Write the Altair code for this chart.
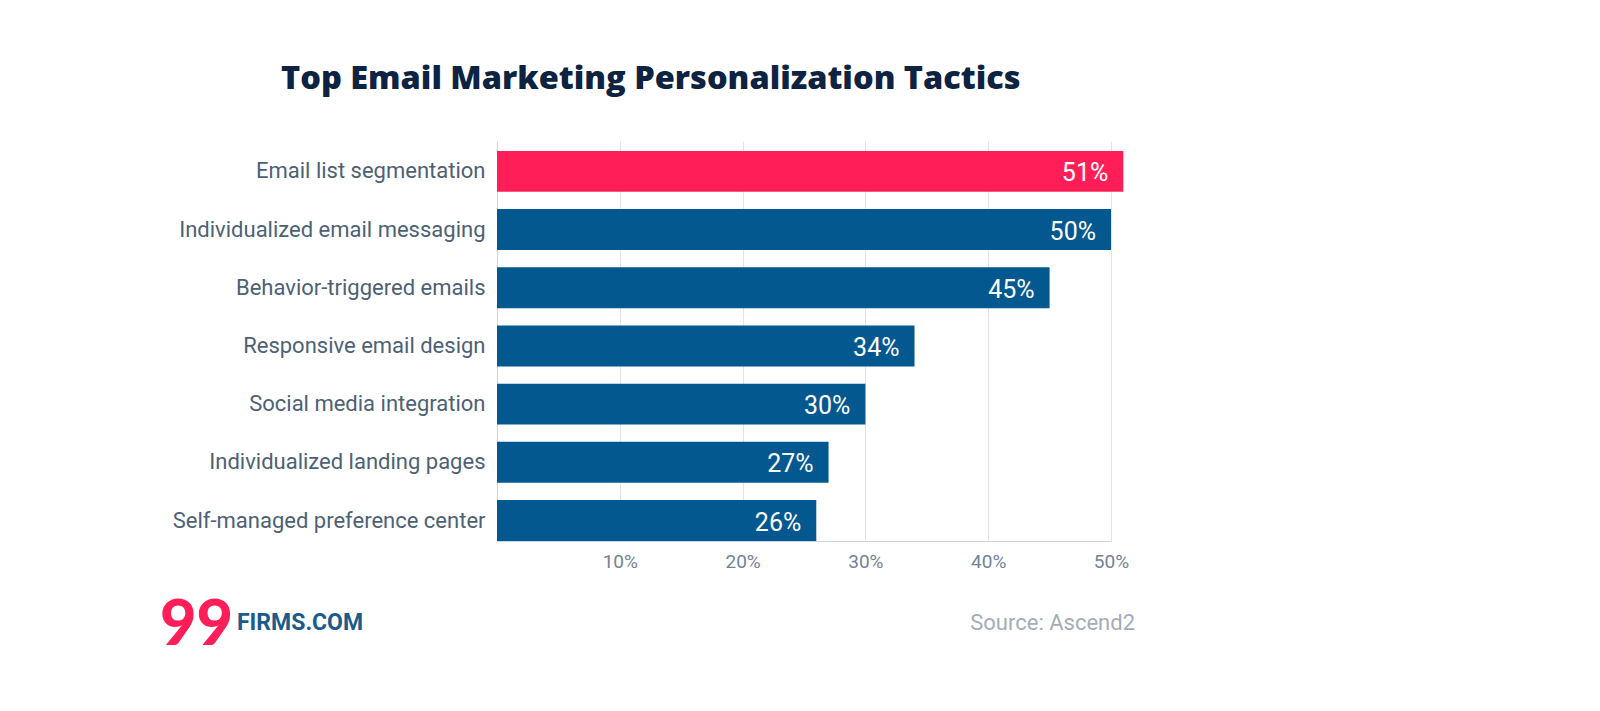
import altair as alt
import pandas as pd

categories = [
    "Email list segmentation",
    "Individualized email messaging",
    "Behavior-triggered emails",
    "Responsive email design",
    "Social media integration",
    "Individualized landing pages",
    "Self-managed preference center",
]
values = [51, 50, 45, 34, 30, 27, 26]
highlight = ["yes", "no", "no", "no", "no", "no", "no"]
tick_values = [10, 20, 30, 40, 50]

df = pd.DataFrame({"tactic": categories, "pct": values, "hl": highlight})
df["label"] = df["pct"].astype(str) + "%"

LABEL_FONT = "Roboto"
TITLE_FONT = "Open Sans"

y_enc = alt.Y(
    "tactic:N",
    sort=categories,
    title=None,
    scale=alt.Scale(paddingInner=0.296, paddingOuter=0.085, align=1, round=False),
    axis=alt.Axis(
        labelFont=LABEL_FONT, labelFontSize=22, labelColor="#4d6175",
        labelPadding=12, ticks=False, domain=True, domainColor="#cfd6dd",
        grid=False, labelLimit=400,
    ),
)
x_enc = alt.X(
    "pct:Q",
    title=None,
    scale=alt.Scale(domain=[0, 50], nice=False, clamp=False),
    axis=alt.Axis(
        values=tick_values, labelExpr="datum.value + '%'",
        labelFont=LABEL_FONT, labelFontSize=19, labelColor="#718396",
        labelPadding=11, ticks=False, domainColor="#cfd6dd",
        grid=True, gridColor="#dfe4ea", labelFlush=False, labelOverlap=False,
    ),
)

bars = alt.Chart(df).mark_bar(clip=False).encode(
    x=x_enc,
    y=y_enc,
    color=alt.Color(
        "hl:N",
        scale=alt.Scale(domain=["yes", "no"], range=["#FF1E58", "#03588F"]),
        legend=None,
    ),
)

labels = alt.Chart(df).mark_text(
    align="right", baseline="middle", dx=-15, dy=2, color="white",
    font=LABEL_FONT, fontSize=25,
).encode(
    x=alt.X("pct:Q", scale=alt.Scale(domain=[0, 50], nice=False)),
    y=alt.Y("tactic:N", sort=categories),
    text="label:N",
)

one = pd.DataFrame({"k": [0]})

title = alt.Chart(one).mark_text(
    text="Top Email Marketing Personalization Tactics",
    align="left", baseline="alphabetic", font=TITLE_FONT,
    fontSize=32.5, fontWeight=800, color="#0d2341",
).encode(x=alt.value(-216), y=alt.value(-52))

logo99 = alt.Chart(one).mark_text(
    text="99", align="left", baseline="alphabetic", font="Lato",
    fontSize=63, fontWeight=900, color="#FF1E58",
).encode(x=alt.value(-337), y=alt.value(504))

logo_txt = alt.Chart(one).mark_text(
    text="FIRMS.COM", align="left", baseline="alphabetic", font="Roboto",
    fontSize=23, fontWeight="bold", color="#1b5b8c",
).encode(x=alt.value(-260), y=alt.value(489))

source = alt.Chart(one).mark_text(
    text="Source: Ascend2", align="right", baseline="alphabetic",
    font=LABEL_FONT, fontSize=22, color="#a3adb8",
).encode(x=alt.value(638), y=alt.value(489))

chart = alt.layer(bars, labels, title, logo99, logo_txt, source).properties(
    width=614,
    height=400,
    autosize=alt.AutoSizeParams(type="none"),
    padding={"left": 489, "top": 133, "right": 400, "bottom": 140},
).configure_view(stroke=None)

chart.save("out.html", embed_options={"renderer": "svg", "actions": False})
